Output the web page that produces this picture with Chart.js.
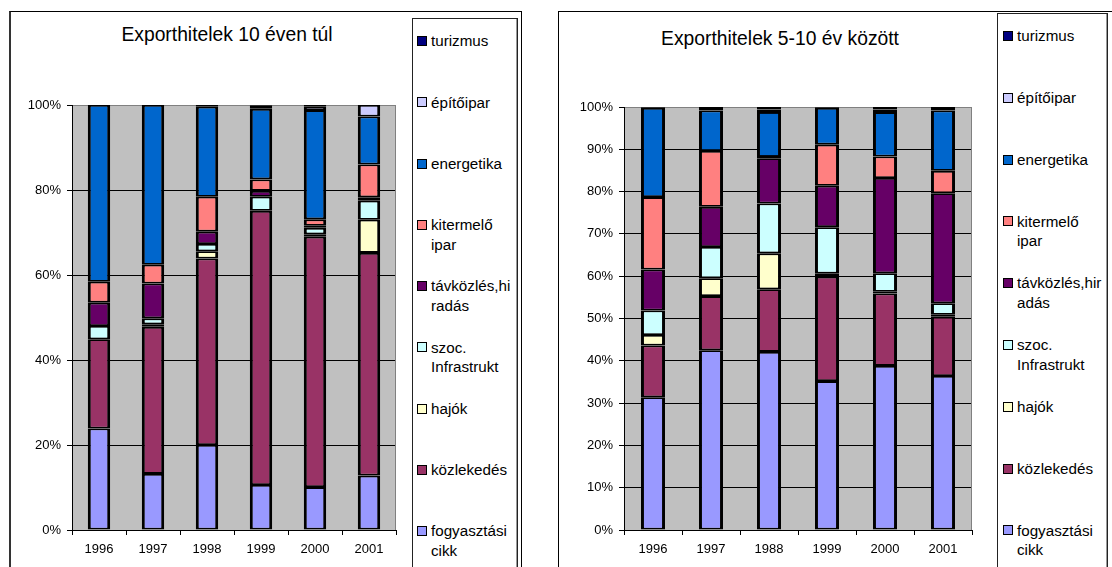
<!DOCTYPE html>
<html><head><meta charset="utf-8">
<script src="https://cdn.jsdelivr.net/npm/chart.js@4.4.0/dist/chart.umd.min.js"></script>
<style>
html,body{margin:0;padding:0;background:#fff;width:1112px;height:567px;overflow:hidden;font-family:"Liberation Sans",Arial,sans-serif;}
.frame{position:absolute;border:1px solid #000;box-sizing:border-box;}
.legend{position:absolute;border:1px solid #222;box-shadow:inset -1px -1px 0 #999;box-sizing:border-box;}
.item{position:absolute;font-size:15.2px;line-height:19.5px;color:#000;overflow-wrap:anywhere;}
.sw{position:absolute;width:10px;height:10px;border:1.5px solid #000;box-sizing:border-box;}
.title{position:absolute;font-size:19.3px;line-height:22px;white-space:nowrap;transform:translate(-50%,-50%);color:#000;}
.cv{position:absolute;top:0;}
</style></head><body>
<div class="frame" style="left:9px;top:11px;width:513px;height:600px;border-left:2px solid #333;"></div>
<div class="frame" style="left:558px;top:11px;width:600px;height:600px;"></div>
<div class="title" style="left:227px;top:35px;">Exporthitelek 10 éven túl</div>
<div class="title" style="left:780px;top:38.5px;">Exporthitelek 5-10 év között</div>
<canvas id="c1" class="cv" style="left:0px" width="412" height="567"></canvas>
<canvas id="c2" class="cv" style="left:560px" width="437" height="567"></canvas>
<div id="lg1" class="legend" style="left:412px;top:18px;width:106px;height:600px;"></div>
<div id="lg2" class="legend" style="left:997px;top:13px;width:111px;height:600px;"></div>
<script>
// ---- data ----
const categoriesLong = ['1996','1997','1998','1999','2000','2001'];
const categoriesMid  = ['1996','1997','1988','1999','2000','2001'];
const seriesNames = ['fogyasztási cikk','közlekedés','hajók','szoc. Infrastrukt','távközlés,hiradás','kitermelő ipar','energetika','építőipar','turizmus'];

// Exporthitelek 10 éven túl (% share)
const longFogyasztasi = [23.9,13.2,20.0,10.6,10.1,12.8];
const longKozlekedes  = [21.0,34.6,43.9,64.5,58.9,52.4];
const longHajok       = [0,0.6,1.7,0,0.6,7.8];
const longSzoc        = [3.1,1.4,1.7,3.3,1.5,4.5];
const longTavkozles   = [5.5,8.2,2.9,1.4,0.5,0.8];
const longKitermelo   = [4.9,4.4,8.2,2.7,1.5,7.7];
const longEnergetika  = [41.6,37.6,21.2,16.6,25.7,11.3];
const longEpitoipar   = [0,0,0,0.7,0.9,2.7];
const longTurizmus    = [0,0,0.4,0.2,0.3,0];

// Exporthitelek 5-10 év között (% share)
const midFogyasztasi = [31.4,42.5,42.1,35.2,38.8,36.4];
const midKozlekedes  = [12.2,12.8,14.8,24.7,17.1,14.0];
const midHajok       = [2.5,4.2,8.5,0.7,0.4,0.5];
const midSzoc        = [5.8,7.4,11.8,11.0,4.4,2.7];
const midTavkozles   = [9.7,9.5,10.7,9.8,22.5,26.0];
const midKitermelo   = [17.1,13.2,0.3,9.7,5.1,5.3];
const midEnergetika  = [21.1,9.6,10.6,8.7,10.5,14.3];
const midEpitoipar   = [0,0,0.6,0,0.6,0];
const midTurizmus    = [0.2,0.8,0.6,0.2,0.6,0.8];

const yTicksLong = [0,20,40,60,80,100];
const yTicksMid  = [0,10,20,30,40,50,60,70,80,90,100];

// ---- styles ----
const seriesColors = ['#9999FF','#993366','#FFFFCC','#CCFFFF','#660066','#FF8080','#0066CC','#CCCCFF','#000080'];
const FONT = '"Liberation Sans", Arial, sans-serif';

const plotBg = {
  id:'plotBg',
  beforeDraw(chart){
    const {ctx, chartArea:a} = chart;
    ctx.save(); ctx.fillStyle = '#C0C0C0';
    ctx.fillRect(a.left, a.top, a.right-a.left, a.bottom-a.top);
    ctx.restore();
  },
  beforeDatasetsDraw(chart){
    const {ctx, chartArea:a} = chart;
    ctx.save(); ctx.strokeStyle = '#808080'; ctx.lineWidth = 1;
    ctx.beginPath(); ctx.moveTo(a.right-0.5, a.top); ctx.lineTo(a.right-0.5, a.bottom); ctx.stroke();
    ctx.restore();
  }
};

function makeChart(id, cats, seriesData, yTicks, pad, yWidth){
  const datasets = seriesData.map((d,i)=>({
    label: seriesNames[i], data: d,
    backgroundColor: seriesColors[i], borderColor:'#000',
    borderWidth:{left:3,right:3,top:1.8,bottom:1.8}, borderSkipped:false,
    barPercentage:0.415, categoryPercentage:1.0
  }));
  const step = yTicks[1]-yTicks[0];
  return new Chart(document.getElementById(id), {
    type:'bar',
    data:{labels:cats, datasets},
    options:{
      responsive:false, animation:false, devicePixelRatio:1,
      layout:{padding:pad},
      plugins:{legend:{display:false}, title:{display:false}, tooltip:{enabled:false}},
      scales:{
        x:{stacked:true,
          grid:{offset:true, drawOnChartArea:false, tickLength:5, color:'#000', tickColor:'#000'},
          border:{color:'#000', width:1},
          ticks:{color:'#000', font:{family:FONT, size:13}, padding:7, maxRotation:0},
          afterFit(s){ s.height = 37; }
        },
        y:{stacked:true, min:0, max:100,
          afterBuildTicks(s){ s.ticks = yTicks.map(v=>({value:v})); },
          grid:{color:c=> (c.tick && c.tick.value===100) ? '#808080' : '#000', lineWidth:1, tickLength:5, tickColor:'#000'},
          border:{color:'#000', width:1},
          ticks:{stepSize:step, color:'#000', font:{family:FONT, size:13}, padding:6, callback:v=>v+'%'},
          afterFit(s){ s.width = yWidth; }
        }
      }
    },
    plugins:[plotBg]
  });
}

function makeLegend(elId, chart, markerLeft, textLeft, textWidth, firstY, spacing){
  const el = document.getElementById(elId);
  const ds = chart.data.datasets.slice().reverse();
  ds.forEach((d,i)=>{
    const y = firstY + i*spacing;
    const sw = document.createElement('div');
    sw.className='sw'; sw.style.left = markerLeft+'px'; sw.style.top = (y-5)+'px';
    sw.style.background = d.backgroundColor;
    el.appendChild(sw);
    const t = document.createElement('div');
    t.className='item'; t.style.left = textLeft+'px'; t.style.top = (y-9.75)+'px';
    t.style.width = textWidth+'px'; t.textContent = d.label;
    el.appendChild(t);
  });
}

const c1 = makeChart('c1', categoriesLong,
  [longFogyasztasi,longKozlekedes,longHajok,longSzoc,longTavkozles,longKitermelo,longEnergetika,longEpitoipar,longTurizmus],
  yTicksLong, {left:0,right:16,top:105,bottom:0}, 72);
const c2 = makeChart('c2', categoriesMid,
  [midFogyasztasi,midKozlekedes,midHajok,midSzoc,midTavkozles,midKitermelo,midEnergetika,midEpitoipar,midTurizmus],
  yTicksMid, {left:0,right:25,top:107,bottom:0}, 64);

// legend positions are relative to the legend boxes
makeLegend('lg1', c1, 4, 18, 82, 41-18-1, 61.25);
makeLegend('lg2', c2, 5, 19, 88, 36-13-1, 61.8);
</script>
</body></html>
